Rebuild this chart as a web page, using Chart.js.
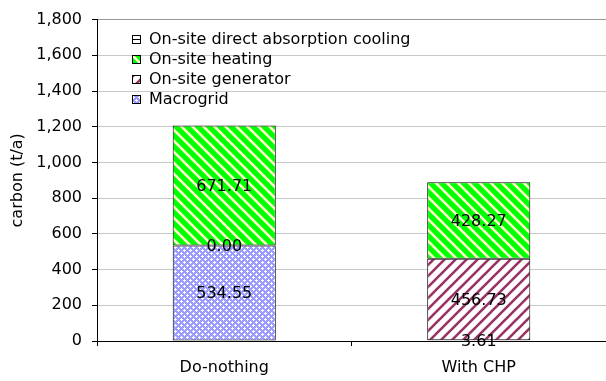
<!DOCTYPE html>
<html>
<head>
<meta charset="utf-8">
<script src="https://cdn.jsdelivr.net/npm/chart.js@4.4.1/dist/chart.umd.min.js"></script>
<style>
  html, body { margin: 0; padding: 0; background: #fff; }
  #wrap { width: 606px; height: 381px; }
</style>
</head>
<body>
<div id="wrap"><canvas id="carbonChart" width="606" height="381"></canvas></div>
<script>
var categories = ["Do-nothing", "With CHP"];
var macrogrid = [534.55, 3.61];
var generator = [0.00, 456.73];
var heating = [671.71, 428.27];
var cooling = [null, null];
var yMin = 0, yMax = 1800, yStep = 200;

var ctx = document.getElementById('carbonChart').getContext('2d');

// fill patterns, like the excel hatches
function stripes(bg, fg, lw, back) {
    var n = 11;
    var t = document.createElement('canvas');
    t.width = n; t.height = n;
    var g = t.getContext('2d');
    g.fillStyle = bg;
    g.fillRect(0, 0, n, n);
    g.strokeStyle = fg;
    g.lineWidth = lw;
    g.beginPath();
    for (var k = -1; k <= 1; k++) {
        if (back) { g.moveTo(k * n - 1, -1); g.lineTo(k * n + n + 1, n + 1); }
        else { g.moveTo(k * n - 1, n + 1); g.lineTo(k * n + n + 1, -1); }
    }
    g.stroke();
    return ctx.createPattern(t, 'repeat');
}
function mesh() {
    var t = document.createElement('canvas');
    t.width = 6; t.height = 6;
    var g = t.getContext('2d');
    g.fillStyle = '#9c9cff';
    g.fillRect(0, 0, 6, 6);
    g.fillStyle = '#ffffff';
    g.fillRect(1, 0, 1, 3); g.fillRect(0, 1, 3, 1);
    g.fillRect(4, 3, 1, 3); g.fillRect(3, 4, 3, 1);
    return ctx.createPattern(t, 'repeat');
}
function hlines() {
    var t = document.createElement('canvas');
    t.width = 8; t.height = 8;
    var g = t.getContext('2d');
    g.fillStyle = '#ffffff';
    g.fillRect(0, 0, 8, 8);
    g.fillStyle = '#000000';
    g.fillRect(0, 7, 8, 1);
    return ctx.createPattern(t, 'repeat');
}

var insideLegend = {
    id: 'insideLegend',
    afterDraw: function (chart) {
        var c = chart.ctx;
        var sets = chart.data.datasets.slice().reverse();
        c.save();
        c.font = '16px "DejaVu Sans"';
        c.textBaseline = 'middle';
        c.textAlign = 'left';
        sets.forEach(function (d, i) {
            var y = 39 + i * 20;
            c.fillStyle = d.backgroundColor;
            c.fillRect(132, y - 4, 9, 9);
            c.strokeStyle = '#000';
            c.lineWidth = 1;
            c.strokeRect(132.5, y - 3.5, 8, 8);
            c.fillStyle = '#000';
            c.fillText(d.label, 149, y + 1);
        });
        c.restore();
    }
};

var valueLabels = {
    id: 'valueLabels',
    afterDatasetsDraw: function (chart) {
        var c = chart.ctx;
        c.save();
        c.font = '16px "DejaVu Sans"';
        c.fillStyle = '#000';
        c.textAlign = 'center';
        c.textBaseline = 'middle';
        chart.data.datasets.forEach(function (d, i) {
            var meta = chart.getDatasetMeta(i);
            meta.data.forEach(function (bar, j) {
                var v = d.data[j];
                if (v === null || v === undefined) return;
                c.fillText(v.toFixed(2), bar.x, (bar.y + bar.base) / 2 + 1);
            });
        });
        c.restore();
    }
};

Chart.defaults.font.family = '"DejaVu Sans"';
Chart.defaults.font.size = 16;
Chart.defaults.color = '#000';

new Chart(ctx, {
    type: 'bar',
    data: {
        labels: categories,
        datasets: [
            { label: "Macrogrid", data: macrogrid, backgroundColor: mesh() },
            { label: "On-site generator", data: generator, backgroundColor: stripes('#ffffff', '#993366', 2.6, false) },
            { label: "On-site heating", data: heating, backgroundColor: stripes('#00ff00', '#ffffcc', 2.6, true) },
            { label: "On-site direct absorption cooling", data: cooling, backgroundColor: hlines() }
        ]
    },
    options: {
        responsive: false,
        animation: false,
        layout: {
            padding: { top: 14, right: -3, bottom: 0, left: 0 }
        },
        datasets: {
            bar: {
                categoryPercentage: 1,
                barPercentage: 0.405,
                borderColor: '#000',
                borderWidth: 1,
                borderSkipped: false
            }
        },
        scales: {
            x: {
                stacked: true,
                afterFit: function (s) { s.height = 40; },
                grid: {
                    offset: true,
                    drawOnChartArea: false,
                    tickLength: 5,
                    tickColor: '#000'
                },
                border: { color: '#000', width: 1 },
                ticks: { padding: 12 }
            },
            y: {
                stacked: true,
                min: yMin,
                max: yMax,
                afterFit: function (s) { s.width = 97; },
                grid: {
                    color: function (c) { return c.tick && c.tick.value === yMax ? '#999999' : '#c8c8c8'; },
                    tickLength: 5,
                    tickColor: '#000'
                },
                border: { color: '#000', width: 1 },
                ticks: {
                    stepSize: yStep,
                    padding: 10,
                    callback: function (v) { return v.toLocaleString('en-US'); }
                },
                title: {
                    display: true,
                    text: 'carbon (t/a)',
                    padding: { top: 8, bottom: 0 }
                }
            }
        },
        plugins: {
            legend: { display: false },
            tooltip: { enabled: false }
        }
    },
    plugins: [valueLabels, insideLegend]
});
</script>
</body>
</html>
